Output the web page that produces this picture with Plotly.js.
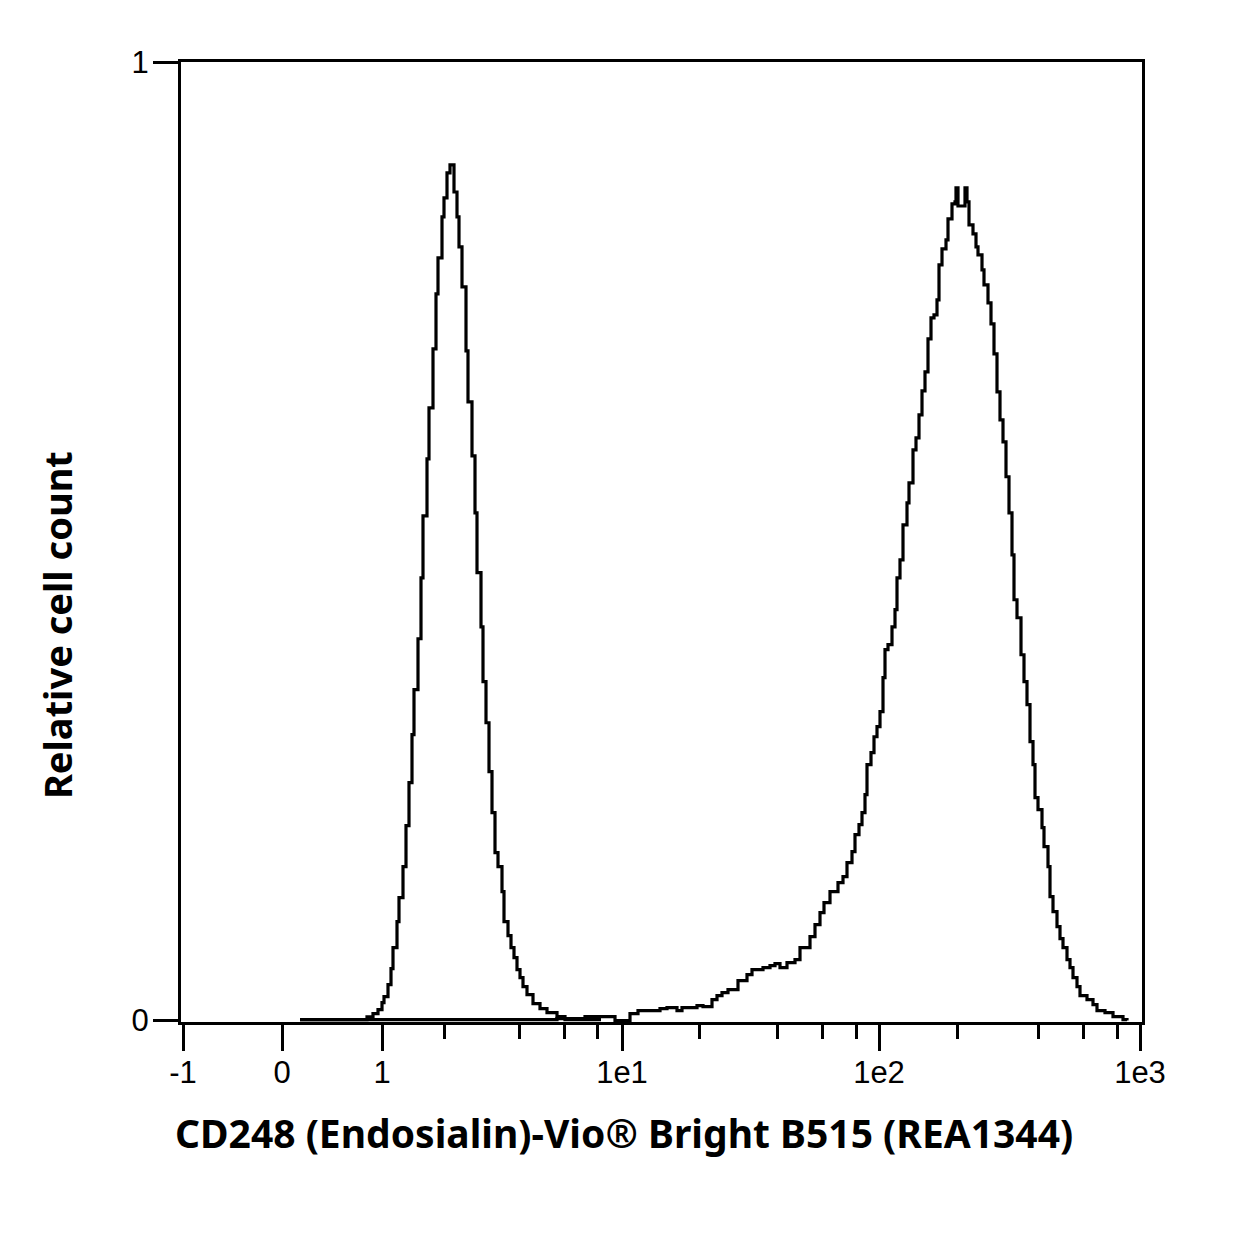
<!DOCTYPE html>
<html>
<head>
<meta charset="utf-8">
<script src="https://cdn.plot.ly/plotly-3.0.1.min.js"></script>
<style>html,body{margin:0;padding:0;background:#fff;}#chart{width:1250px;height:1250px;}</style>
</head>
<body>
<div id="chart"></div>
<script>
// Display channel scale of the biexponential axis (0 .. 961)
const tickChannels = [2, 101, 201, 441, 698, 959];
const tickLabels = ["-1", "0", "1", "1e1", "1e2", "1e3"];
const minorTickChannels = [263, 338, 383, 416, 518, 596, 641, 675, 776, 857, 902, 936];

// Control sample histogram (left peak): channel, relative count
const controlChannel = [119, 186, 192, 197, 201, 203, 207, 210, 212, 216, 218, 222, 225, 228, 231, 233, 237, 240, 242, 246, 248, 252, 255, 257, 261, 263, 266, 269, 273, 276, 278, 281, 285, 287, 291, 294, 296, 300, 302, 305, 308, 311, 314, 317, 321, 323, 327, 330, 333, 336, 339, 342, 346, 352, 359, 366, 376, 384, 420];
const controlCount = [0.001, 0.004, 0.0073, 0.0115, 0.0188, 0.025, 0.0375, 0.0542, 0.0761, 0.1032, 0.1283, 0.1606, 0.2033, 0.2482, 0.2982, 0.3452, 0.3983, 0.4619, 0.5266, 0.586, 0.6392, 0.7007, 0.7581, 0.7956, 0.8384, 0.8582, 0.8843, 0.8926, 0.8644, 0.8384, 0.8071, 0.7654, 0.6986, 0.6455, 0.5892, 0.5297, 0.4672, 0.4108, 0.3535, 0.3107, 0.2596, 0.2169, 0.1752, 0.1606, 0.1345, 0.1032, 0.0886, 0.0761, 0.0657, 0.0532, 0.0448, 0.0355, 0.0271, 0.0177, 0.0125, 0.0083, 0.0042, 0.001, 0.001];

// CD248 stained histogram (right peak): channel, relative count
const stainedChannel = [119, 376, 404, 434, 449, 457, 479, 486, 496, 501, 516, 522, 531, 536, 541, 547, 557, 566, 571, 582, 589, 594, 599, 606, 614, 619, 629, 634, 639, 643, 649, 657, 662, 666, 671, 674, 678, 681, 684, 686, 690, 693, 696, 699, 702, 704, 707, 711, 714, 716, 719, 722, 726, 728, 732, 735, 738, 741, 744, 747, 750, 753, 756, 758, 761, 765, 767, 771, 774, 775, 777, 784, 786, 788, 792, 795, 797, 801, 803, 807, 810, 813, 816, 819, 822, 825, 828, 831, 833, 836, 840, 843, 846, 849, 852, 854, 857, 861, 863, 867, 869, 872, 876, 879, 882, 886, 889, 892, 896, 899, 906, 912, 916, 924, 932, 942, 946];
const stainedCount = [0.001, 0.0021, 0.0042, 0, 0.0073, 0.0104, 0.0125, 0.0136, 0.0104, 0.0136, 0.0156, 0.0146, 0.0219, 0.0261, 0.0292, 0.0323, 0.0417, 0.048, 0.0532, 0.0553, 0.0574, 0.0594, 0.0553, 0.0605, 0.0636, 0.0761, 0.0876, 0.1001, 0.1126, 0.123, 0.1345, 0.1439, 0.1502, 0.1648, 0.1762, 0.194, 0.2044, 0.2169, 0.2357, 0.2669, 0.2795, 0.2961, 0.3066, 0.3222, 0.3577, 0.3869, 0.3921, 0.4108, 0.4286, 0.4619, 0.4807, 0.5172, 0.5401, 0.561, 0.5954, 0.6079, 0.6319, 0.6569, 0.6767, 0.7112, 0.7331, 0.7362, 0.7518, 0.7883, 0.805, 0.8144, 0.8363, 0.8519, 0.854, 0.8686, 0.8498, 0.8686, 0.854, 0.83, 0.8207, 0.8071, 0.7988, 0.7831, 0.7675, 0.7487, 0.7268, 0.6955, 0.6559, 0.6267, 0.6038, 0.5673, 0.5297, 0.4859, 0.439, 0.4202, 0.3816, 0.3535, 0.3295, 0.2909, 0.2669, 0.2325, 0.22, 0.2013, 0.1814, 0.1606, 0.1293, 0.1137, 0.098, 0.0855, 0.0761, 0.0636, 0.0553, 0.0448, 0.0355, 0.0261, 0.0219, 0.0167, 0.0104, 0.0083, 0.0042, 0.001, 0];

const yTickVals = [0, 1];
const yTickLabels = ["0", "1"];
const xTitle = "CD248 (Endosialin)-Vio® Bright B515 (REA1344)";
const yTitle = "Relative cell count";

const lineStyle = {color: "#000", width: 3.2, shape: "hv"};
const traces = [
  {x: controlChannel, y: controlCount, type: "scatter", mode: "lines", line: lineStyle, hoverinfo: "skip"},
  {x: stainedChannel, y: stainedCount, type: "scatter", mode: "lines", line: lineStyle, hoverinfo: "skip"}
];

const tickFont = {family: "Liberation Sans, Arial, sans-serif", size: 31, color: "#000"};
const xTitleFont = {family: "Noto Sans, Open Sans, sans-serif", size: 39, color: "#000", weight: 700};
const yTitleFont = {family: "Noto Sans, Open Sans, sans-serif", size: 38, color: "#000", weight: 700};

const layout = {
  width: 1250, height: 1250,
  paper_bgcolor: "#fff", plot_bgcolor: "#fff",
  showlegend: false,
  margin: {l: 181, r: 108, t: 62, b: 228},
  xaxis: {
    range: [0, 961], showgrid: false, zeroline: false,
    showline: true, linecolor: "#000", linewidth: 3, mirror: true,
    tickmode: "array", tickvals: tickChannels, ticktext: tickLabels,
    ticks: "outside", ticklen: 26, tickwidth: 3, tickcolor: "#000",
    tickfont: tickFont, ticklabelstandoff: -5,
    minor: {tickmode: "array", tickvals: minorTickChannels, ticks: "outside", ticklen: 14, tickwidth: 3, tickcolor: "#000", showgrid: false}
  },
  yaxis: {
    range: [-0.0015, 1], showgrid: false, zeroline: false,
    showline: true, linecolor: "#000", linewidth: 3, mirror: true,
    tickmode: "array", tickvals: yTickVals, ticktext: yTickLabels,
    ticks: "outside", ticklen: 25, tickwidth: 3, tickcolor: "#000",
    tickfont: tickFont, ticklabelstandoff: -2
  },
  annotations: [
    {text: xTitle, xref: "paper", yref: "paper", x: 0.461, y: -0.1156, xanchor: "center", yanchor: "middle", showarrow: false, font: xTitleFont},
    {text: yTitle, xref: "paper", yref: "paper", x: -0.129, y: 0.4135, xanchor: "center", yanchor: "middle", textangle: -90, showarrow: false, font: yTitleFont}
  ]
};

Plotly.newPlot("chart", traces, layout, {displayModeBar: false, staticPlot: true});
</script>
</body>
</html>
